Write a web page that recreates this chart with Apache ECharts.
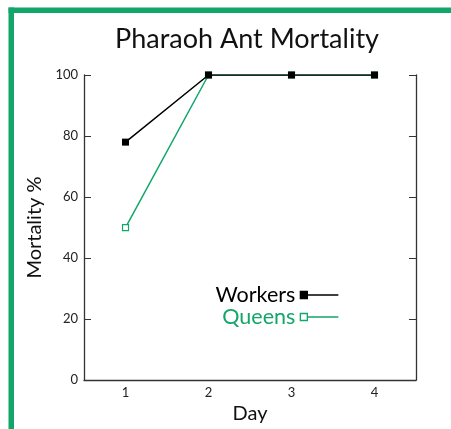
<!DOCTYPE html>
<html>
<head>
<meta charset="utf-8">
<script src="https://cdn.jsdelivr.net/npm/echarts@6/dist/echarts.min.js"></script>
<style>html,body{margin:0;padding:0;background:#fff}#c{width:451px;height:429px}</style>
</head>
<body>
<div id="c"></div>
<script>
const days = ['1', '2', '3', '4'];
const workers = [78, 100, 100, 100];
const queens = [50, 100, 100, 100];
const yTicks = { min: 0, max: 100, interval: 20 };
const GREEN = '#12a66a';
const FONT = 'Lato';
const iconPath = 'path://M0,0H7V7H0Z M7,3.5H38';

const chart = echarts.init(document.getElementById('c'), null, { renderer: 'canvas' });
chart.setOption({
  animation: false,
  backgroundColor: '#fff',
  title: {
    text: 'Pharaoh Ant Mortality',
    left: 242, top: 21, textAlign: 'center',
    textStyle: { fontFamily: FONT, fontSize: 27, fontWeight: 'normal', color: '#111' }
  },
  graphic: [
    { type: 'rect', shape: { x: 8.5, y: 7.5, width: 443, height: 5.5 }, style: { fill: GREEN } },
    { type: 'rect', shape: { x: 8.5, y: 7.5, width: 5.5, height: 422 }, style: { fill: GREEN } }
  ],
  grid: { left: 84, right: 35, top: 75, bottom: 48 },
  legend: {
    orient: 'vertical', right: 112, top: 284, align: 'right',
    itemWidth: 38, itemHeight: 7, itemGap: 0, padding: 0,
    textStyle: { fontFamily: FONT, fontSize: 21.5, lineHeight: 21 },
    data: [
      { name: 'Workers', icon: iconPath, itemStyle: { color: '#000', borderColor: '#000', borderWidth: 1.3 }, textStyle: { color: '#000' } },
      { name: 'Queens', icon: iconPath, itemStyle: { color: '#fff', borderColor: GREEN, borderWidth: 1.3 }, textStyle: { color: GREEN } }
    ]
  },
  xAxis: {
    type: 'category', data: days, boundaryGap: true,
    name: 'Day', nameLocation: 'middle', nameGap: 17,
    nameTextStyle: { fontFamily: FONT, fontSize: 20, color: '#111' },
    axisLine: { lineStyle: { color: '#333', width: 1.3 } },
    axisTick: { inside: true, length: 7, lineStyle: { color: '#333' } },
    axisLabel: { fontFamily: FONT, fontSize: 13, color: '#222', margin: 6 },
    splitLine: { show: false }
  },
  yAxis: [
    {
      type: 'value', min: yTicks.min, max: yTicks.max, interval: yTicks.interval,
      name: 'Mortality %', nameLocation: 'middle', nameGap: 36, nameRotate: 90,
      nameTextStyle: { fontFamily: FONT, fontSize: 20, color: '#111' },
      axisLine: { show: true, lineStyle: { color: '#333', width: 1.3 } },
      axisTick: { show: true, inside: true, length: 7, lineStyle: { color: '#333' } },
      axisLabel: { fontFamily: FONT, fontSize: 13, color: '#222', margin: 6 },
      splitLine: { show: false }
    },
    {
      type: 'value', position: 'right', min: yTicks.min, max: yTicks.max, interval: yTicks.interval,
      axisLine: { show: true, lineStyle: { color: '#333', width: 1.3 } },
      axisTick: { show: true, inside: true, length: 7, lineStyle: { color: '#333' } },
      axisLabel: { show: false },
      splitLine: { show: false }
    }
  ],
  series: [
    {
      name: 'Queens', type: 'line', data: queens,
      symbol: 'rect', symbolSize: 6,
      lineStyle: { color: GREEN, width: 1.5 },
      itemStyle: { color: '#fff', borderColor: GREEN, borderWidth: 1.2 }
    },
    {
      name: 'Workers', type: 'line', data: workers,
      symbol: 'rect', symbolSize: 7,
      lineStyle: { color: '#000', width: 1.5 },
      itemStyle: { color: '#000', borderColor: '#000', borderWidth: 0 }
    }
  ]
});
</script>
</body>
</html>
